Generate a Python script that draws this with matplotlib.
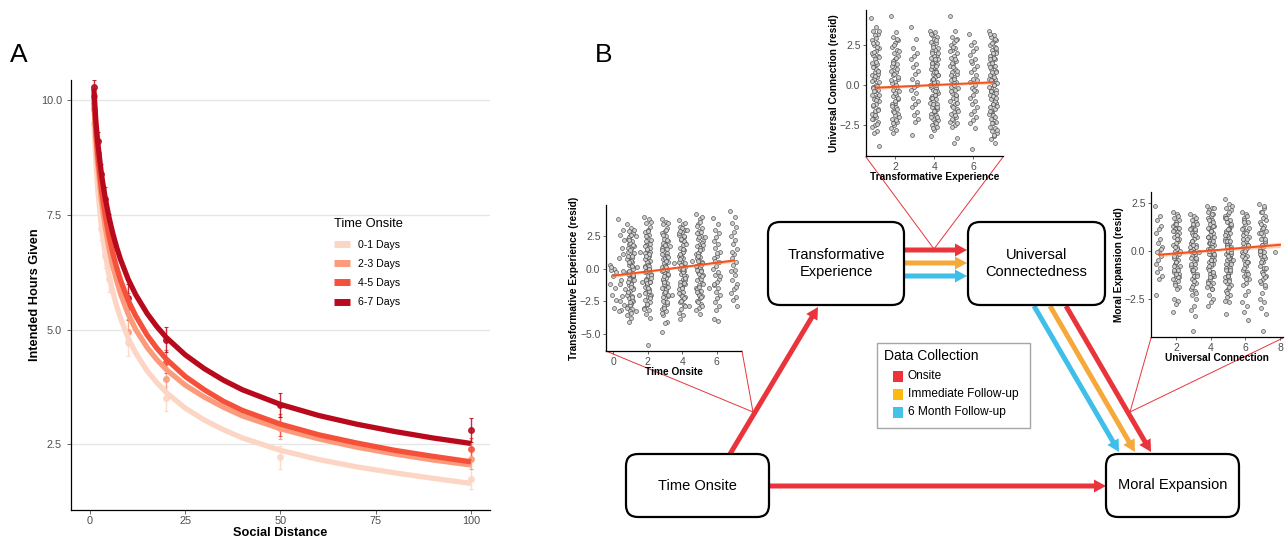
import numpy as np
import matplotlib
matplotlib.use("Agg")
import matplotlib.pyplot as plt
from matplotlib.lines import Line2D
from matplotlib.patches import FancyBboxPatch, Rectangle

plt.rcParams['font.family'] = ['Liberation Sans', 'DejaVu Sans']

W, H = 1285, 541

# ---- panel A: intended hours by social distance ----
group_labels = ['0-1 Days', '2-3 Days', '4-5 Days', '6-7 Days']
group_colors = ['#fdd5c4', '#fb9b7b', '#f5513a', '#b80a1c']

curve_x = [1, 1.5, 2, 3, 4, 5, 6, 7, 8, 10, 12, 15, 17.5, 20, 25, 30, 35, 40, 50, 60, 70, 80, 90, 100]
curve_01 = [9.53, 8.68, 8.07, 7.23, 6.64, 6.18, 5.82, 5.51, 5.25, 4.82, 4.49, 4.10, 3.85, 3.63, 3.29, 3.03,
            2.82, 2.64, 2.37, 2.17, 2.01, 1.88, 1.76, 1.65]
curve_23 = [9.95, 9.18, 8.62, 7.81, 7.23, 6.76, 6.38, 6.06, 5.78, 5.34, 5.00, 4.61, 4.35, 4.13, 3.79, 3.53,
            3.31, 3.12, 2.84, 2.62, 2.44, 2.29, 2.16, 2.05]
curve_45 = [10.10, 9.36, 8.82, 8.04, 7.48, 7.03, 6.66, 6.35, 6.08, 5.64, 5.30, 4.88, 4.60, 4.36, 3.98, 3.69,
            3.44, 3.24, 2.94, 2.71, 2.53, 2.37, 2.24, 2.12]
curve_67 = [10.25, 9.58, 9.09, 8.38, 7.86, 7.44, 7.09, 6.79, 6.53, 6.10, 5.76, 5.35, 5.07, 4.83, 4.45, 4.15,
            3.90, 3.69, 3.37, 3.13, 2.94, 2.78, 2.64, 2.52]

sd_levels = [1, 2, 3, 4, 5, 10, 20, 50, 100]
means_01 = [9.5, 8.1, 7.2, 6.6, 6.1, 4.72, 3.5, 2.22, 1.75]
means_23 = [9.8, 8.6, 7.8, 7.2, 6.42, 4.95, 3.92, 2.85, 2.18]
means_45 = [10.1, 8.85, 8.05, 7.5, 6.95, 5.5, 4.3, 2.92, 2.39]
means_67 = [10.28, 9.1, 8.4, 7.85, 7.25, 5.68, 4.78, 3.36, 2.81]
err_01 = [0.18, 0.22, 0.24, 0.26, 0.28, 0.3, 0.27, 0.25, 0.22]
err_23 = [0.16, 0.2, 0.22, 0.24, 0.26, 0.28, 0.26, 0.24, 0.22]
err_45 = [0.15, 0.2, 0.22, 0.24, 0.27, 0.3, 0.25, 0.24, 0.24]
err_67 = [0.15, 0.2, 0.22, 0.25, 0.28, 0.32, 0.27, 0.26, 0.26]

# ---- inset 1: universal connection (resid) by transformative experience ----
uc_te1 = [4.2, 3.6, 3.4, 3.2, 3.1, 2.8, 2.6, 2.5, 2.3, 2.1, 1.9, 1.8, 1.6, 1.4, 1.3, 1.1, 0.9, 0.8, 0.6, 0.5,
          0.3, 0.2, 0.0, -0.1, -0.3, -0.4, -0.6, -0.7, -0.9, -1.0, -1.2, -1.3, -1.5, -1.7, -1.8, -2.0, -2.1,
          -2.3, -2.5, -2.6, -2.9, -3.0, -3.8, 1.0, -0.2, 0.7, -1.6, 2.0, -0.8, 0.4, 3.35, 2.95, 2.65, 2.35,
          2.05, 1.75, 1.45, 1.15, 0.85, 0.55, 0.25, -0.05, -0.35, -0.65, -0.95, -1.25, -1.55, -1.85, -2.15, -2.45]
uc_te2 = [4.3, 3.3, 3.0, 2.8, 2.6, 2.4, 2.2, 2.0, 1.8, 1.6, 1.5, 1.3, 1.1, 0.9, 0.8, 0.6, 0.4, 0.2, 0.1, -0.1,
          -0.2, -0.4, -0.6, -0.7, -0.9, -1.1, -1.2, -1.4, -1.6, -1.8, -1.9, -2.1, -2.3, -2.5, -2.7, -2.8, -3.0,
          0.5, -0.5, 1.2, 2.9, 2.5, 2.1, 1.7, 1.4, 1.0, 0.7, 0.3, 0.0, -0.3, -0.8, -1.0, -1.3, -1.5, -1.7,
          -2.0, -2.2, -2.4]
uc_te3 = [3.6, 2.9, 2.3, 2.0, 1.8, 1.6, 1.3, 1.1, 0.9, 0.7, 0.4, 0.2, -0.1, -0.3, -0.5, -0.8, -1.0, -1.2,
          -1.4, -1.7, -1.9, -2.1, -2.3, -3.1, 0.0]
uc_te4 = [3.4, 3.3, 3.1, 3.0, 2.9, 2.7, 2.6, 2.5, 2.3, 2.2, 2.1, 1.9, 1.8, 1.7, 1.5, 1.4, 1.3, 1.1, 1.0, 0.9,
          0.7, 0.6, 0.5, 0.3, 0.2, 0.1, -0.1, -0.2, -0.3, -0.5, -0.6, -0.7, -0.9, -1.0, -1.1, -1.3, -1.4, -1.5,
          -1.7, -1.8, -1.9, -2.1, -2.2, -2.3, -2.5, -2.6, -2.8, -3.2, 0.0, 0.4, -0.4, 0.8, -0.8, 1.2, -1.2, 1.6,
          -1.6, 2.0, -2.0, 0.2, 3.2, 2.8, 2.4, 2.0, 1.6, 1.2, 0.8, 0.4, 0.0, -0.4, -0.8, -1.2, -1.6, -2.0,
          -2.4, -2.7, 0.6, -0.6, 1.4, -1.4]
uc_te5 = [4.3, 3.4, 3.0, 2.9, 2.7, 2.5, 2.3, 2.2, 2.0, 1.8, 1.7, 1.5, 1.3, 1.2, 1.0, 0.8, 0.7, 0.5, 0.3, 0.2,
          0.0, -0.2, -0.3, -0.5, -0.7, -0.8, -1.0, -1.2, -1.3, -1.5, -1.7, -1.8, -2.0, -2.2, -2.3, -2.5, -2.6,
          -3.3, -3.6, 0.6, -0.6, 1.1, -1.1, 0.1, -0.1, 2.8, 2.4, 2.1, 1.6, 1.4, 0.9, 0.4, -0.4, -0.9, -1.4,
          -1.6, -1.9, -2.1, -2.4, 0.0]
uc_te6 = [3.2, 2.7, 2.5, 2.3, 2.1, 1.9, 1.6, 1.4, 1.2, 1.0, 0.8, 0.6, 0.4, 0.2, 0.0, -0.2, -0.4, -0.6, -0.8,
          -1.0, -1.2, -1.4, -1.6, -1.8, -2.0, -2.2, -2.4, -2.7, -4.0, 0.3, -0.3, 1.5]
uc_te7 = [3.4, 3.1, 3.0, 2.8, 2.7, 2.5, 2.4, 2.2, 2.1, 1.9, 1.8, 1.6, 1.5, 1.3, 1.2, 1.0, 0.9, 0.7, 0.6, 0.4,
          0.3, 0.1, 0.0, -0.2, -0.3, -0.5, -0.6, -0.8, -0.9, -1.1, -1.2, -1.4, -1.5, -1.7, -1.8, -2.0, -2.1,
          -2.3, -2.4, -2.6, -2.7, -2.9, -3.0, -3.2, -3.4, -3.6, 0.2, -0.1, 0.5, -0.4, 0.8, -0.7, 1.1, -1.0, 1.4,
          -1.3, 1.7, -1.6, 2.0, -1.9, 3.2, 2.9, 2.6, 2.3, 2.0, 1.6, 1.2, 0.8, 0.4, 0.0, -0.4, -0.8, -1.2,
          -1.6, -2.0, -2.4, -2.8, -3.1, 0.3, -0.5]
uc_fit_x = [1, 4, 7]
uc_fit_y = [-0.17, 0.0, 0.17]
uc_fit_se = [0.1, 0.06, 0.1]

# ---- inset 2: transformative experience (resid) by time onsite ----
te_t0 = [0.3, 0.0, -0.1, -0.3, -0.6, -1.2, -1.5, -2.0, -2.4, -3.0, 0.1]
te_t05 = [3.8, 3.0, 2.6, 2.2, 1.6, 0.8, -0.2, -0.9, -1.6, -2.1, -2.5, -2.8, -3.2, -3.3, 1.1, -1.2]
te_t1 = [3.4, 3.1, 2.9, 2.7, 2.5, 2.3, 2.1, 1.9, 1.7, 1.5, 1.3, 1.1, 0.9, 0.7, 0.5, 0.3, 0.1, -0.1, -0.3,
         -0.5, -0.7, -0.9, -1.1, -1.3, -1.5, -1.7, -1.9, -2.1, -2.3, -2.5, -2.7, -2.9, -3.1, -3.3, -3.6, -3.8,
         -4.1, 0.0, 0.4, -0.4, 0.8, -0.8, 1.2, -1.2, 1.6, -1.6, 2.0, -2.0, -2.4, 2.4, -0.6, 0.6, -1.0, 1.0, -2.8,
         3.0, 2.6, 2.2, 1.8, 1.4, 1.0, 0.2, -0.2, -0.6, -1.4, -1.8, -2.2, -2.6, -3.0, -3.4, 0.5, -0.5]
te_t15 = [2.5, 1.3, 0.1, -1.0, -2.0, -3.3]
te_t2 = [4.0, 3.8, 3.5, 3.2, 3.0, 2.8, 2.6, 2.4, 2.2, 2.0, 1.8, 1.6, 1.4, 1.2, 1.0, 0.8, 0.6, 0.4, 0.2, 0.0,
         -0.2, -0.4, -0.6, -0.8, -1.0, -1.2, -1.4, -1.6, -1.8, -2.0, -2.2, -2.4, -2.6, -2.8, -3.0, -3.2, -3.5,
         -3.8, -5.9, 0.1, -0.1, 0.5, -0.5, 0.9, -0.9, 1.3, -1.3, 1.7, -1.7, 2.1, -2.1, 0.3, -0.3, 1.1, -1.1,
         3.6, 2.9, 2.5, 1.9, 1.5, 0.7, 0.2, -0.2, -0.7, -1.5, -1.9, -2.3, -2.7, -3.1, 0.0, 1.0, -1.0]
te_t3 = [3.8, 3.6, 3.4, 3.1, 2.9, 2.7, 2.5, 2.3, 2.1, 1.9, 1.7, 1.5, 1.3, 1.1, 0.9, 0.7, 0.5, 0.3, 0.1, -0.1,
         -0.3, -0.5, -0.7, -0.9, -1.1, -1.3, -1.5, -1.7, -1.9, -2.1, -2.3, -2.5, -2.7, -2.9, -3.1, -3.3, -3.6,
         -4.1, -4.2, -4.9, 0.0, 0.4, -0.4, 0.8, -0.8, 1.2, -1.2, 1.6, -1.6, 2.0, -2.0, 0.2, -0.2, 1.0, -1.0,
         3.5, 3.0, 2.6, 2.2, 1.8, 1.4, 0.6, -0.6, -1.4, -1.8, -2.2, -2.6, -3.0, -3.4, 0.1, -0.1, 0.9]
te_t35 = [1.7, 0.4, -2.0]
te_t4 = [3.7, 3.4, 3.2, 3.0, 2.8, 2.6, 2.4, 2.2, 2.0, 1.8, 1.6, 1.4, 1.2, 1.0, 0.8, 0.6, 0.4, 0.2, 0.0, -0.2,
         -0.4, -0.6, -0.8, -1.0, -1.2, -1.4, -1.6, -1.8, -2.0, -2.2, -2.4, -2.6, -2.8, -3.1, -3.4, -3.6, -3.9,
         0.1, -0.1, 0.5, -0.5, 0.9, -0.9, 1.3, -1.3, 2.1, -2.1, 2.7, -0.3, 0.3, 3.5, 3.1, 2.9, 2.5, 2.3, 1.9,
         1.5, 0.7, -0.7, -1.5, -1.9, -2.3, -2.5, -2.9, 0.0, 1.1, -1.1]
te_t45 = [3.0, 0.6, -2.9]
te_t5 = [4.2, 3.8, 3.4, 3.1, 2.9, 2.7, 2.5, 2.3, 2.1, 1.9, 1.7, 1.5, 1.3, 1.1, 0.9, 0.7, 0.5, 0.3, 0.1, -0.1,
         -0.3, -0.5, -0.7, -0.9, -1.1, -1.3, -1.5, -1.7, -1.9, -2.1, -2.3, -2.5, -2.7, -3.0, -3.2, -3.5, 0.0,
         0.4, -0.4, 0.8, -0.8, 1.2, -1.2, 1.6, -1.6, 2.0, -2.0, 0.2, -0.2, 1.0, 4.0, 3.6, 3.3, 2.8, 2.4, 1.8,
         1.4, 0.6, -0.6, -1.4, -1.8, -2.2, -2.6, -2.9, 0.1, -0.1, 0.3]
te_t55 = [2.4, -1.5]
te_t6 = [3.9, 3.4, 3.0, 2.7, 2.4, 2.1, 1.9, 1.6, 1.3, 1.0, 0.8, 0.5, 0.2, 0.0, -0.3, -0.5, -0.8, -1.0, -1.3,
         -1.5, -1.8, -2.0, -2.3, -2.6, -2.9, -3.2, -3.9, -4.0, 0.6, -0.6, 1.2, -1.2]
te_t7 = [4.4, 4.0, 3.5, 3.2, 2.8, 2.5, 2.2, 1.9, 1.5, 1.1, 0.8, 0.5, 0.3, -0.2, -0.5, -0.9, -1.2, -1.6, -1.9,
         -2.2, -2.4, -2.9, -0.1, 1.3, -1.4]
te_fit_x = [0, 3.5, 7]
te_fit_y = [-0.55, 0.03, 0.62]
te_fit_se = [0.12, 0.07, 0.14]

# ---- inset 3: moral expansion (resid) by universal connection ----
me_u1 = [2.3, 1.8, 1.6, 1.3, 1.1, 0.9, 0.6, 0.4, 0.2, 0.0, -0.1, -0.3, -0.5, -0.7, -0.9, -1.1, -1.3, -1.5,
         -2.3, 0.1]
me_u2 = [2.0, 1.9, 1.7, 1.6, 1.5, 1.3, 1.2, 1.1, 0.9, 0.8, 0.7, 0.5, 0.4, 0.3, 0.1, 0.0, -0.1, -0.3, -0.4,
         -0.5, -0.7, -0.8, -0.9, -1.1, -1.2, -1.3, -1.5, -1.6, -1.7, -1.9, -2.0, -2.5, -2.6, -2.8, -3.2, 0.2,
         -0.2, 0.6, -0.6, 1.0, -1.0, 1.4, -1.4, 0.1, -0.3, 1.8, 1.4, 1.0, 0.6, 0.2, -0.2, -0.6, -1.0, -1.4,
         -1.8, 0.0, 0.8, -0.8, 1.2, -1.2]
me_u3 = [1.9, 1.8, 1.6, 1.5, 1.3, 1.2, 1.0, 0.9, 0.7, 0.6, 0.4, 0.3, 0.1, 0.0, -0.2, -0.3, -0.5, -0.6, -0.8,
         -0.9, -1.1, -1.2, -1.4, -1.5, -1.7, -1.8, -2.0, -2.1, -2.3, -2.5, -2.9, -3.1, -3.4, -4.2, 0.2, -0.1,
         0.5, -0.4, 0.8, -0.7, 1.1, -1.0, 1.4, -1.3, 0.0, 1.7, 1.4, 1.1, 0.8, 0.5, 0.2, -0.1, -0.4, -0.7, -1.0,
         -1.3, -1.6, -1.9, -2.2, 0.3]
me_u35 = [-0.1]
me_u4 = [2.3, 2.2, 2.1, 1.9, 1.8, 1.7, 1.6, 1.4, 1.3, 1.2, 1.1, 0.9, 0.8, 0.7, 0.6, 0.4, 0.3, 0.2, 0.1, -0.1,
         -0.2, -0.3, -0.4, -0.6, -0.7, -0.8, -0.9, -1.1, -1.2, -1.3, -1.4, -1.6, -1.7, -1.8, -1.9, -2.0, -2.3,
         -2.5, -2.7, -2.9, 0.0, 0.5, -0.5, 1.0, -1.0, 1.5, -1.5, 2.0, 0.2, -0.2, 0.7, -0.7, 1.2, -1.2, 0.4,
         2.2, 1.9, 1.6, 1.3, 1.0, 0.7, 0.4, 0.1, -0.2, -0.5, -0.8, -1.1, -1.4, -1.7, -2.0, 0.0, 0.5, -0.5]
me_u5 = [2.7, 2.4, 2.2, 2.1, 1.9, 1.8, 1.6, 1.5, 1.3, 1.2, 1.0, 0.9, 0.7, 0.6, 0.4, 0.3, 0.1, 0.0, -0.2,
         -0.3, -0.5, -0.6, -0.8, -0.9, -1.1, -1.2, -1.4, -1.5, -1.7, -1.8, -2.0, -2.1, -2.3, -2.4, -2.6, -2.7,
         -3.3, 0.2, -0.1, 0.5, -0.4, 0.8, -0.7, 1.1, -1.0, 1.4, -1.3, 1.7, -1.6, 0.3, -0.2, 0.0, 0.9, -0.9, 0.5,
         2.3, 2.0, 1.7, 1.4, 1.1, 0.8, 0.5, 0.2, -0.1, -0.4, -0.7, -1.0, -1.3, -1.6, -1.9, -2.2, 0.1, -0.3]
me_u55 = [-0.5]
me_u6 = [2.0, 1.9, 1.7, 1.5, 1.4, 1.2, 1.0, 0.9, 0.7, 0.5, 0.4, 0.2, 0.0, -0.1, -0.3, -0.5, -0.6, -0.8, -1.0,
         -1.1, -1.3, -1.5, -1.7, -1.8, -2.1, -2.3, -2.7, -2.9, -3.2, -3.6, 0.1, -0.2, 0.6, -0.7, 1.1, -1.2, 1.6,
         0.3, -0.4, 0.8, 1.8, 1.5, 1.2, 0.9, 0.6, 0.3, 0.0, -0.3, -0.6, -0.9, -1.2, -1.5, 0.2]
me_u7 = [2.4, 2.2, 2.0, 1.8, 1.7, 1.5, 1.3, 1.1, 1.0, 0.8, 0.6, 0.4, 0.3, 0.1, -0.1, -0.3, -0.4, -0.6, -0.8,
         -1.0, -1.1, -1.3, -1.5, -1.7, -1.9, -2.2, -2.5, -2.7, -3.0, -3.3, -4.2, 0.0, 0.5, -0.5, 0.9, -0.9, 1.4,
         -1.4, 0.2, -0.2, 2.3, 2.0, 1.6, 1.2, 0.9, 0.6, 0.3, 0.0, -0.3, -0.6, -0.9, -1.2, -1.6, -1.8]
me_u8 = [-0.1]
me_fit_x = [1, 4.5, 8]
me_fit_y = [-0.22, 0.04, 0.30]
me_fit_se = [0.1, 0.06, 0.14]

# data collection colours
red, orange, blue = '#e8343a', '#f6a93b', '#3ebfea'


def px_axes(fig, l, t, r, b):
    return fig.add_axes([l / W, 1 - b / H, (r - l) / W, (b - t) / H])


def jitter(n, width):
    return ((np.arange(n) * 0.618034) % 1.0 - 0.5) * width


def style_inset(ax):
    for s in ['top', 'right']:
        ax.spines[s].set_visible(False)
    for s in ['left', 'bottom']:
        ax.spines[s].set_linewidth(0.9)
        ax.spines[s].set_color('black')
    ax.tick_params(labelsize=7.5, colors='#4d4d4d', length=2.5, width=0.6, pad=1.5)
    ax.set_facecolor('none')


def draw_inset(ax, cols, fx, fy, fse, xlabel, ylabel):
    for xc, vals in cols:
        xs = xc + jitter(len(vals), 0.4)
        ax.scatter(xs, vals, s=8, facecolor='#d0d0d0', edgecolor='#4a4a4a', linewidths=0.45, zorder=2)
    fy = np.array(fy)
    fse = np.array(fse)
    ax.fill_between(fx, fy - fse, fy + fse, color='#f9a36b', alpha=0.55, lw=0, zorder=3)
    ax.plot(fx, fy, color='#f4511e', lw=1.4, zorder=4)
    ax.set_xlabel(xlabel, fontsize=7.3, fontweight='bold', labelpad=0.5)
    ax.set_ylabel(ylabel, fontsize=7.3, fontweight='bold', labelpad=1)
    style_inset(ax)


fig = plt.figure(figsize=(W / 100, H / 100), dpi=100)

# diagram layer in pixel coordinates
axD = fig.add_axes([0, 0, 1, 1])
axD.set_xlim(0, W)
axD.set_ylim(H, 0)
axD.axis('off')

# ---------------- panel A ----------------
axA = px_axes(fig, 71, 80, 490, 510)
curves = [curve_01, curve_23, curve_45, curve_67]
means = [means_01, means_23, means_45, means_67]
errs = [err_01, err_23, err_45, err_67]
for cv, mu, er, col in zip(curves, means, errs, group_colors):
    axA.errorbar(sd_levels, mu, yerr=er, fmt='o', ms=4, color=col, ecolor=col,
                 elinewidth=1.0, capsize=1.5, capthick=0.8, alpha=0.85, zorder=2)
    axA.plot(curve_x, cv, color=col, lw=3.8, solid_capstyle='butt', solid_joinstyle='round', zorder=3)
axA.set_xlim(-5, 105)
axA.set_ylim(1.07, 10.44)
axA.set_xticks([0, 25, 50, 75, 100])
axA.set_yticks([2.5, 5.0, 7.5, 10.0])
axA.set_yticklabels(['2.5', '5.0', '7.5', '10.0'])
axA.grid(axis='y', color='#e6e6e6', lw=1.0, zorder=0)
axA.set_axisbelow(True)
for s in ['top', 'right']:
    axA.spines[s].set_visible(False)
for s in ['left', 'bottom']:
    axA.spines[s].set_linewidth(0.9)
axA.tick_params(labelsize=7.8, colors='#4d4d4d', length=3, width=0.6)
axA.tick_params(axis='x', pad=1.5)
axA.set_xlabel('Social Distance', fontsize=9.2, fontweight='bold', labelpad=0.5)
axA.set_ylabel('Intended Hours Given', fontsize=9.2, fontweight='bold', labelpad=0)

handles = [Line2D([0], [0], color=c, lw=5, solid_capstyle='butt') for c in group_colors]
axA.legend(handles, group_labels, title='Time Onsite', loc='upper left',
           bbox_to_anchor=(329 / W, 1 - 213 / H), bbox_transform=fig.transFigure,
           frameon=False, fontsize=7.6, title_fontsize=9.3, handlelength=1.45,
           handletextpad=0.75, labelspacing=0.88, borderpad=0, alignment='left')

fig.text(10 / W, 1 - 62 / H, 'A', fontsize=19)
fig.text(595 / W, 1 - 62 / H, 'B', fontsize=19)

# ---------------- panel B diagram ----------------
line_kw = dict(color=red, lw=0.7, zorder=1)
axD.plot([866, 934, 1003], [157, 249, 157], **line_kw)
axD.plot([606, 753, 742], [351, 412, 351], **line_kw)
axD.plot([1151, 1130, 1283], [338, 412, 338], **line_kw)

boxes = [(768, 222, 904, 305, 'Transformative\nExperience'),
         (968, 222, 1105, 305, 'Universal\nConnectedness'),
         (626, 454, 769, 517, 'Time Onsite'),
         (1106, 454, 1239, 517, 'Moral Expansion')]
for x0, y0, x1, y1, label in boxes:
    axD.add_patch(FancyBboxPatch((x0, y0), x1 - x0, y1 - y0,
                                 boxstyle='round,pad=0,rounding_size=12',
                                 fc='white', ec='black', lw=1.6, zorder=3))
    axD.text((x0 + x1) / 2, (y0 + y1) / 2, label, ha='center', va='center',
             fontsize=10.5, linespacing=1.25, zorder=4)

arrow_kw = dict(width=5, head_width=13, head_length=12, length_includes_head=True,
                ec='none', zorder=2)
for y, c in [(250, red), (263, orange), (276, blue)]:
    axD.arrow(905, y, 62, 0, fc=c, **arrow_kw)
axD.arrow(730, 454, 88, -147, fc=red, **arrow_kw)
axD.arrow(769, 486, 337, 0, fc=red, **arrow_kw)
for x0, c in [(1034, blue), (1050, orange), (1066, red)]:
    axD.arrow(x0, 306, 85, 146, fc=c, **arrow_kw)

# data collection legend
axD.add_patch(Rectangle((877, 343), 153, 85, fc='white', ec='#a6a6a6', lw=1.0, zorder=3))
axD.text(884, 356, 'Data Collection', fontsize=10, va='center', ha='left', zorder=4)
for yc, c, lab in [(376, '#ee3237', 'Onsite'), (394, '#fdb913', 'Immediate Follow-up'),
                   (412, '#42c3ea', '6 Month Follow-up')]:
    axD.add_patch(Rectangle((893, yc - 5.5), 10, 11, fc=c, ec='none', zorder=4))
    axD.text(908, yc, lab, fontsize=8.6, va='center', ha='left', zorder=4)

# ---------------- insets ----------------
ax1 = px_axes(fig, 866, 10, 1003, 156)
draw_inset(ax1, [(1, uc_te1), (2, uc_te2), (3, uc_te3), (4, uc_te4), (5, uc_te5), (6, uc_te6), (7, uc_te7)],
           uc_fit_x, uc_fit_y, uc_fit_se, 'Transformative Experience', 'Universal Connection (resid)')
ax1.set_xlim(0.52, 7.51)
ax1.set_ylim(-4.44, 4.69)
ax1.set_xticks([2, 4, 6])
ax1.set_yticks([-2.5, 0, 2.5])
ax1.set_yticklabels(['\u22122.5', '0.0', '2.5'])

ax2 = px_axes(fig, 606, 205, 741, 351)
draw_inset(ax2, [(0, te_t0), (0.5, te_t05), (1, te_t1), (1.5, te_t15), (2, te_t2), (3, te_t3), (3.5, te_t35),
                 (4, te_t4), (4.5, te_t45), (5, te_t5), (5.5, te_t55), (6, te_t6), (7, te_t7)],
           te_fit_x, te_fit_y, te_fit_se, 'Time Onsite', 'Transformative Experience (resid)')
ax2.set_xlim(-0.42, 7.41)
ax2.set_ylim(-6.34, 4.89)
ax2.set_xticks([0, 2, 4, 6])
ax2.set_yticks([-5, -2.5, 0, 2.5])
ax2.set_yticklabels(['\u22125.0', '\u22122.5', '0.0', '2.5'])

ax3 = px_axes(fig, 1151, 192, 1283, 337)
draw_inset(ax3, [(1, me_u1), (2, me_u2), (3, me_u3), (3.5, me_u35), (4, me_u4), (5, me_u5), (5.5, me_u55),
                 (6, me_u6), (7, me_u7), (7.9, me_u8)],
           me_fit_x, me_fit_y, me_fit_se, 'Universal Connection', 'Moral Expansion (resid)')
ax3.set_xlim(0.54, 8.17)
ax3.set_ylim(-4.5, 3.05)
ax3.set_xticks([2, 4, 6, 8])
ax3.set_yticks([-2.5, 0, 2.5])
ax3.set_yticklabels(['\u22122.5', '0.0', '2.5'])

fig.savefig('out.png', dpi=100, facecolor='white')
